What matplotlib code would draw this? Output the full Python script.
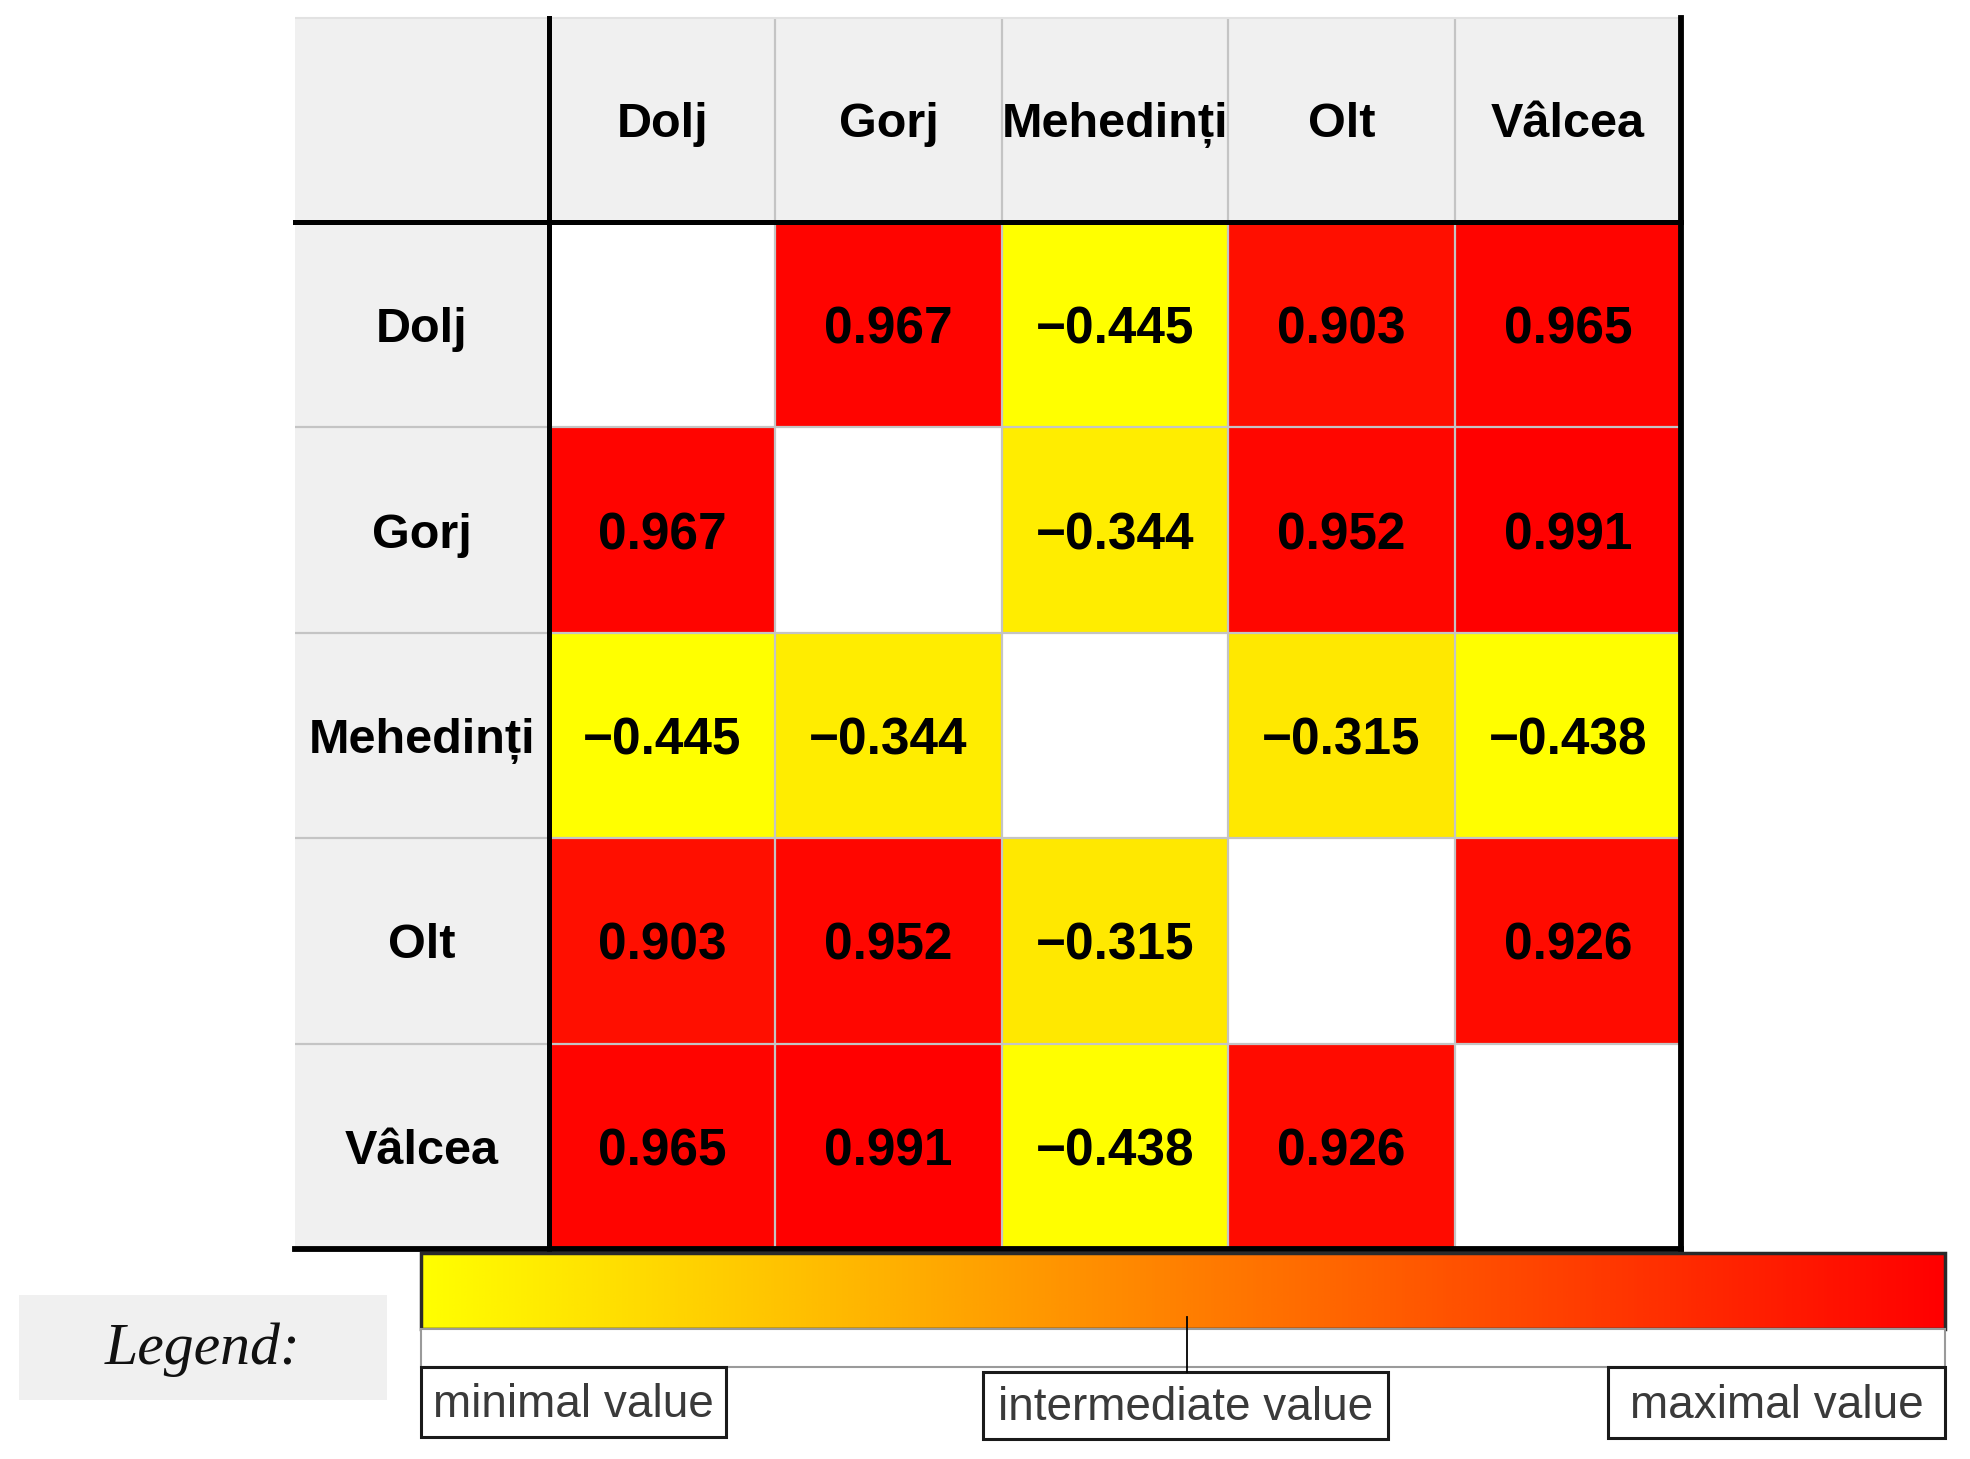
import numpy as np
import matplotlib
matplotlib.use("Agg")
import matplotlib.pyplot as plt
from matplotlib.colors import LinearSegmentedColormap, Normalize
from matplotlib.patches import Rectangle

plt.rcParams["font.family"] = ["Liberation Sans", "DejaVu Sans"]

# correlation matrix between counties (diagonal left blank)
counties = ["Dolj", "Gorj", "Mehedinți", "Olt", "Vâlcea"]
dolj = [np.nan, 0.967, -0.445, 0.903, 0.965]
gorj = [0.967, np.nan, -0.344, 0.952, 0.991]
mehedinti = [-0.445, -0.344, np.nan, -0.315, -0.438]
olt = [0.903, 0.952, -0.315, np.nan, 0.926]
valcea = [0.965, 0.991, -0.438, 0.926, np.nan]
legend_labels = ["minimal value", "intermediate value", "maximal value"]

M = np.ma.masked_invalid(np.array([dolj, gorj, mehedinti, olt, valcea]))
cmap = LinearSegmentedColormap.from_list("yr", ["#FFFF00", "#FF0000"])
norm = Normalize(vmin=M.min(), vmax=M.max())

W, H = 1970, 1459
TAB_L, COL0_R, TAB_R = 295, 549, 1681
TAB_T, HEAD_B, TAB_B = 18, 222, 1249
HEAD_GRAY = "#F0F0F0"; GRID = "#C4C4C4"; INK = "black"

fig = plt.figure(figsize=(W / 100, H / 100), dpi=100)
fig.patch.set_facecolor("white")

# ---- table ----
ax = fig.add_axes([COL0_R / W, 1 - TAB_B / H, (TAB_R - COL0_R) / W, (TAB_B - HEAD_B) / H])
n = len(counties)
ax.set_xlim(-0.5, n - 0.5); ax.set_ylim(n - 0.5, -0.5)
ax.axis("off")
hc = (COL0_R - TAB_L) / ((TAB_R - COL0_R) / n)   # header column width in cell units
hr = (HEAD_B - TAB_T) / ((TAB_B - HEAD_B) / n)   # header row height in cell units

edges = np.arange(n + 1) - 0.5
ax.pcolormesh(edges, edges, M, cmap=cmap, norm=norm)

ax.add_patch(Rectangle((-0.5 - hc, -0.5 - hr), n + hc, hr, fc=HEAD_GRAY, ec="none", clip_on=False))
ax.add_patch(Rectangle((-0.5 - hc, -0.5), hc, n, fc=HEAD_GRAY, ec="none", clip_on=False))

for k in edges[1:-1]:
    ax.vlines(k, -0.5 - hr, n - 0.5, color=GRID, lw=1.6, clip_on=False)
    ax.hlines(k, -0.5 - hc, n - 0.5, color=GRID, lw=1.6, clip_on=False)
ax.hlines(-0.5 - hr, -0.5 - hc, n - 0.5, color="#E2E2E2", lw=1.5, clip_on=False)

for ln in [ax.vlines(-0.5, -0.5 - hr, n - 0.5, color=INK, lw=3.6, clip_on=False),
           ax.hlines(-0.5, -0.5 - hc, n - 0.5, color=INK, lw=3.6, clip_on=False),
           ax.vlines(n - 0.5, -0.5 - hr, n - 0.5, color=INK, lw=4.2, clip_on=False),
           ax.hlines(n - 0.5, -0.5 - hc, n - 0.5, color=INK, lw=4.2, clip_on=False)]:
    ln.set_capstyle("projecting")

for j, name in enumerate(counties):
    ax.text(j, -0.5 - hr / 2, name, ha="center", va="center_baseline", fontsize=35,
            fontweight="bold", color=INK, clip_on=False)
    ax.text(-0.5 - hc / 2, j, name, ha="center", va="center_baseline", fontsize=35,
            fontweight="bold", color=INK, clip_on=False)

for i in range(n):
    for j in range(n):
        if M.mask[i, j]:
            continue
        ax.text(j, i, f"{M[i, j]:.3f}".replace("-", "\u2212"), ha="center",
                va="center_baseline", fontsize=37, fontweight="bold", color=INK)

# ---- legend ----
lg = fig.add_axes([0, 0, 1, 1])
lg.patch.set_alpha(0)
lg.add_patch(Rectangle((19, 1295), 368, 105, fc=HEAD_GRAY, ec="none"))
lg.text(203, 1350, "Legend:", ha="center", va="center", fontsize=43, style="italic",
        family=["Liberation Serif", "DejaVu Serif"], color="#111111")

grad = np.linspace(norm.vmin, norm.vmax, 512)[None, :]
lg.imshow(grad, cmap=cmap, norm=norm, extent=(421, 1945, 1329, 1253), aspect="auto")
lg.add_patch(Rectangle((421, 1253), 1524, 76, fill=False, ec="#2a2a2a", lw=2.5))
lg.add_patch(Rectangle((421, 1329), 1524, 38, fc="white", ec="#9a9a9a", lw=1.5))
lg.plot([1187, 1187], [1317, 1372], color=INK, lw=1.3)

boxes = [(421, 726, 1367, 1437), (983, 1388, 1372, 1439), (1608, 1945, 1367, 1438)]
for (x0, x1, y0, y1), lab in zip(boxes, legend_labels):
    lg.add_patch(Rectangle((x0, y0), x1 - x0, y1 - y0, fc="white", ec="#1a1a1a", lw=2.2))
    lg.text((x0 + x1) / 2, (y0 + y1) / 2 + 3, lab, ha="center", va="center",
            fontsize=33, color="#3a3a3a")

lg.set_xlim(0, W); lg.set_ylim(H, 0)
lg.axis("off")

fig.savefig("out.png", dpi=100, facecolor="white")
plt.close(fig)
